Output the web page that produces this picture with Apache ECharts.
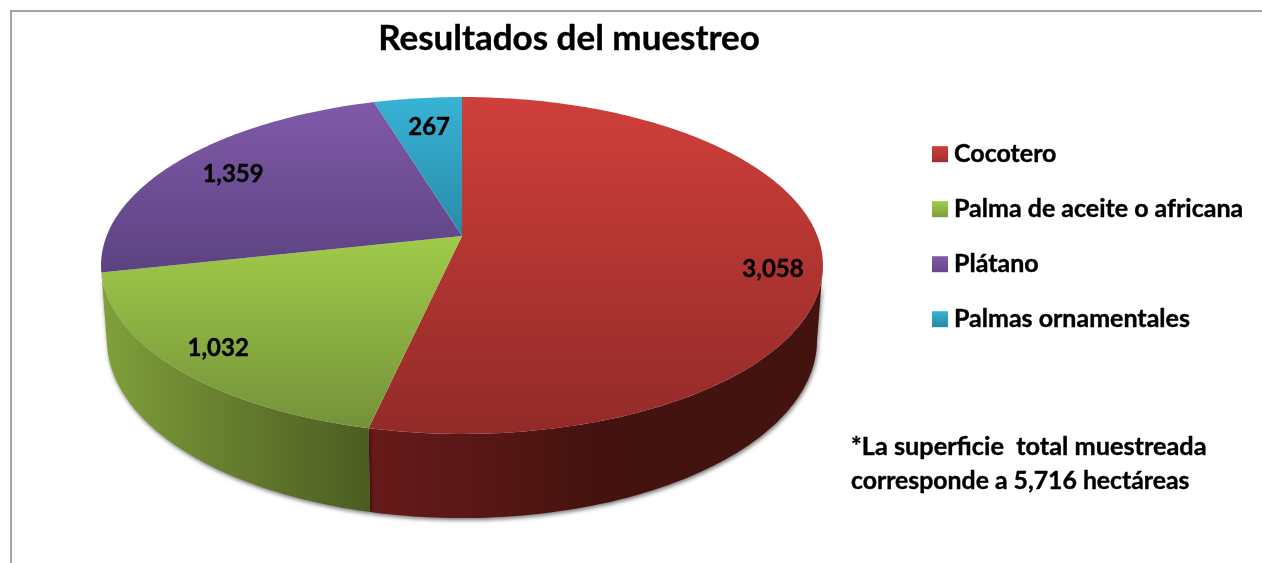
<!DOCTYPE html>
<html>
<head>
<meta charset="utf-8">
<style>html,body{margin:0;padding:0;background:#fff}#c{width:1262px;height:563px}</style>
<script src="https://cdn.jsdelivr.net/npm/echarts@6/dist/echarts.min.js"></script>
</head>
<body>
<div id="c"></div>
<script>
const titleText = 'Resultados del muestreo';
const categories = ['Cocotero', 'Palma de aceite o africana', 'Plátano', 'Palmas ornamentales'];
const values = [3058, 1032, 1359, 267];
const valueLabels = ['3,058', '1,032', '1,359', '267'];
const noteLines = ['*La superficie  total muestreada', 'corresponde a 5,716 hectáreas'];

const topColors = [['#cf3f3b', '#922a28'], ['#a0cb4a', '#749239'], ['#7f5aa9', '#5c4280'], ['#37b3d6', '#2a8aa7']];
const legendColors = [['#cf3f3b', '#a02e2c'], ['#a0cb4a', '#7f9e3c'], ['#7f5aa9', '#654888'], ['#37b3d6', '#2887a3']];
const wallStops = [
  [[0, '#671b1a'], [0.3, '#541614'], [0.5, '#44130f'], [1, '#42130f']],
  [[0, '#80a03a'], [0.5, '#657c2e'], [1, '#4b5c21']],
  null, null
];
const labelRadius = [0.867, 0.865, 0.805, 0.771];
const labelTurn = [6.3, 0, 0.5, 0.6];

const FONT = 'Lato';
const total = values.reduce((a, b) => a + b, 0);
const starts = values.map((_, i) => values.slice(0, i).reduce((a, b) => a + b, 0));

// Tilted-disc perspective: top face and base of the pie
const K = 0.175;
const faces = {
  top: { cx: 462, cy: 236, a: 355.4, b: 163.3 },
  base: { cx: 462, cy: 309, a: 349.5, b: 172.5 }
};
const wallFrom = 100.1, wallTo = 259.9;

function project(deg, r, face) {
  const t = deg * Math.PI / 180;
  const X = Math.sin(t) * r, Y = Math.cos(t) * r;
  const d = 1 + K * Y;
  return [face.cx + face.a * X / d, face.cy - face.b * Y / d];
}
function arc(from, to, face) {
  const n = Math.max(2, Math.ceil(Math.abs(to - from)));
  const pts = [];
  for (let i = 0; i <= n; i++) pts.push(project(from + (to - from) * i / n, 1, face));
  return pts;
}
const grad = (x2, y2, stops) => new echarts.graphic.LinearGradient(0, 0, x2, y2,
  stops.map(s => ({ offset: s[0], color: s[1] })));

function sliceRenderer(idx) {
  return function (params, api) {
    const a0 = api.value(0) / total * 360;
    const a1 = (api.value(0) + api.value(1)) / total * 360;
    const children = [];
    const wa = Math.max(a0, wallFrom), wb = Math.min(a1, wallTo);
    if (wallStops[idx] && wb > wa) {
      const end = a1 < wallTo ? a1 : wb;
      children.push({
        type: 'polygon', z2: 1,
        shape: { points: arc(wa, end, faces.top).concat(arc(end, wa, faces.base)) },
        style: { fill: grad(1, 0, wallStops[idx]), shadowColor: 'rgba(0,0,0,0.55)', shadowBlur: 4, shadowOffsetX: 1, shadowOffsetY: 2 }
      });
    }
    children.push({
      type: 'polygon', z2: 5,
      shape: { points: [project(0, 0, faces.top)].concat(arc(a0, a1, faces.top)) },
      style: { fill: grad(0, 1, [[0, topColors[idx][0]], [1, topColors[idx][1]]]) }
    });
    const p = project((a0 + a1) / 2 + labelTurn[idx], labelRadius[idx], faces.top);
    children.push({
      type: 'text', z2: 10, x: p[0], y: p[1] + 1,
      style: { text: valueLabels[idx], fill: '#000', font: 'bold 24px ' + FONT, align: 'center', verticalAlign: 'middle', stroke: '#000', lineWidth: 0.4 }
    });
    return { type: 'group', children };
  };
}

const chart = echarts.init(document.getElementById('c'), null, { renderer: 'canvas' });
chart.setOption({
  animation: false,
  backgroundColor: '#ffffff',
  title: {
    text: titleText, left: 564, top: 16, textAlign: 'center',
    textStyle: { fontFamily: FONT, fontWeight: 'bold', fontSize: 35, color: '#000', textBorderColor: '#000', textBorderWidth: 0.4 }
  },
  legend: {
    orient: 'vertical', left: 927, top: 136.5, selectedMode: false,
    icon: 'rect', itemWidth: 16, itemHeight: 16, itemGap: 29.6,
    data: categories,
    textStyle: { fontFamily: FONT, fontWeight: 'bold', fontSize: 25, lineHeight: 25, color: '#000', textBorderColor: '#000', textBorderWidth: 0.4, padding: [0, 0, 0, 1] }
  },
  graphic: [
    { type: 'polyline', silent: true, shape: { points: [[11, 563], [11, 11], [1262, 11]] },
      style: { stroke: '#a3a3a3', lineWidth: 2, fill: null } },
    { type: 'text', silent: true, x: 851, y: 447,
      style: { text: noteLines[0], fill: '#000', font: 'bold 25.3px ' + FONT, verticalAlign: 'middle', stroke: '#000', lineWidth: 0.4 } },
    { type: 'text', silent: true, x: 851, y: 481,
      style: { text: noteLines[1], fill: '#000', font: 'bold 24.8px ' + FONT, verticalAlign: 'middle', stroke: '#000', lineWidth: 0.4 } }
  ],
  series: categories.map((name, i) => ({
    type: 'custom', name, coordinateSystem: 'none', silent: true,
    itemStyle: { color: grad(0, 1, [[0, legendColors[i][0]], [1, legendColors[i][1]]]) },
    data: [[starts[i], values[i]]],
    renderItem: sliceRenderer(i)
  }))
});
</script>
</body>
</html>
